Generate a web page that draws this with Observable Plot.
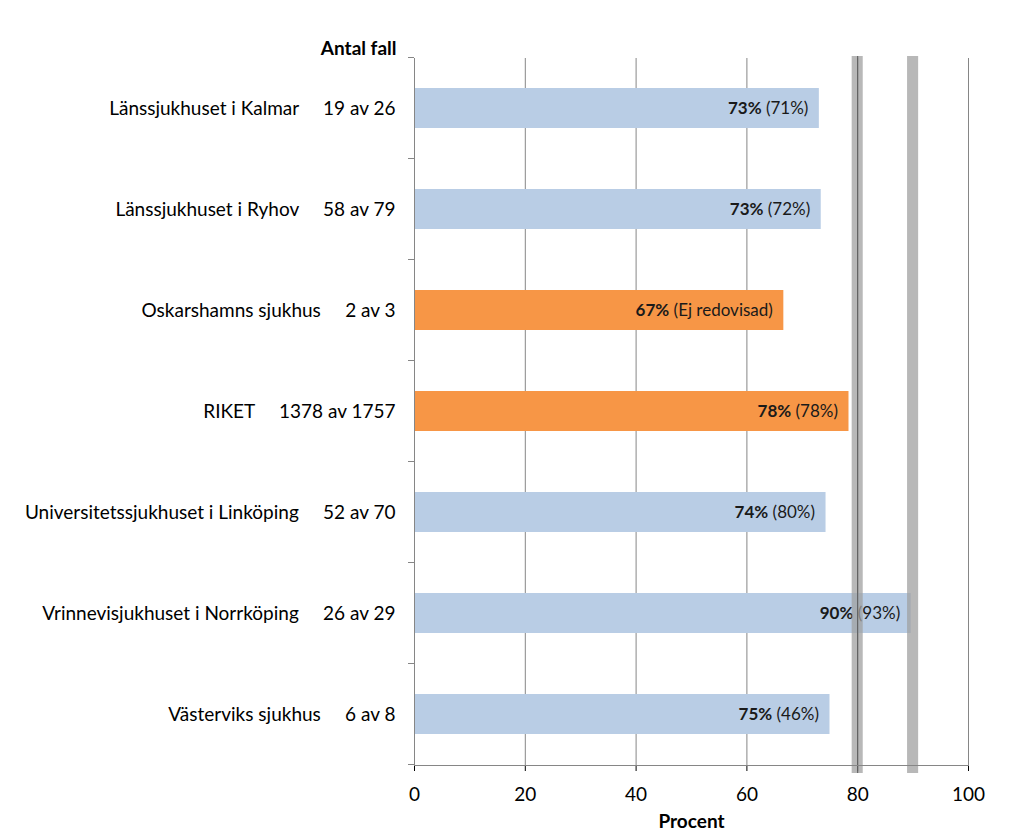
<!DOCTYPE html>
<html><head><meta charset="utf-8">
<script src="https://cdn.jsdelivr.net/npm/d3@7"></script>
<script src="https://cdn.jsdelivr.net/npm/@observablehq/plot@0.6"></script>
<style>body{margin:0;background:#fff;}</style>
</head><body><div id="chart"></div>
<script>
const hospitals = ["Länssjukhuset i Kalmar","Länssjukhuset i Ryhov","Oskarshamns sjukhus","RIKET","Universitetssjukhuset i Linköping","Vrinnevisjukhuset i Norrköping","Västerviks sjukhus"];
const cases = [19,58,2,1378,52,26,6];
const totals = [26,79,3,1757,70,29,8];
const previous = ["(71%)","(72%)","(Ej redovisad)","(78%)","(80%)","(93%)","(46%)"];
const highlighted = [false,false,true,true,false,false,false];
const xTicks = [0,20,40,60,80,100];
const targetLow = [79,89];
const targetHigh = [81,91];
const targetLine = [80];

const rows = hospitals.map((h,i)=>({
  label: h + "\u00a0\u00a0\u00a0\u00a0\u00a0" + cases[i] + " av " + totals[i],
  pct: cases[i]/totals[i]*100,
  prev: previous[i],
  hi: highlighted[i]
}));
const bands = targetLow.map((l,i)=>({x1:l, x2:targetHigh[i]}));

const chart = Plot.plot({
  width:1024, height:837,
  marginLeft:414, marginRight:56, marginTop:58, marginBottom:72,
  style:{fontFamily:"Lato, 'Open Sans', sans-serif", fontSize:"19px", color:"#000", background:"#fff"},
  x:{domain:[0,100], ticks:5, tickSize:6, tickPadding:16, label:null},
  y:{domain: rows.map(d=>d.label), paddingInner:0.6, paddingOuter:0.3, tickSize:0, tickPadding:19, label:null},
  marks:[
    Plot.ruleX(xTicks, {stroke:"#868686", strokeOpacity:1}),
    Plot.barX(rows, {x:"pct", y:"label", fill: d=>d.hi ? "#f79646" : "#b9cde5"}),
    Plot.text(rows, {x:"pct", y:"label", text: d=>Math.round(d.pct)+"% "+d.prev, textAnchor:"end", dx:-11, fontSize:17, fill:"#1a1a1a"}),
    Plot.rect(bands, {x1:"x1", x2:"x2", fill:"#a0a0a0", fillOpacity:0.75, insetTop:-2, insetBottom:-8}),
    Plot.ruleX(targetLine, {stroke:"#555", insetTop:-2, insetBottom:-8}),
    Plot.ruleX([0], {stroke:"#868686"}),
    Plot.frame({anchor:"bottom", stroke:"#868686"}),
    Plot.text(["Antal fall"], {frameAnchor:"top-left", dx:-18, dy:-17, textAnchor:"end", fontWeight:"bold", fontSize:19}),
    Plot.text(["Procent"], {frameAnchor:"bottom", dy:62, fontWeight:"bold", fontSize:19})
  ]
});

const svg = d3.select(chart);
svg.selectAll("text").each(function(){
  const t = this.textContent;
  const m = t.match(/^(\d+%) (\(.*\))$/);
  if (m) {
    this.textContent = "";
    d3.select(this).append("tspan").attr("font-weight","bold").text(m[1]);
    d3.select(this).append("tspan").text(" " + m[2]);
  }
});
const ys = chart.scale("y");
const xs = chart.scale("x");
const gap = (ys.step - ys.bandwidth)/2;
const x0 = xs.apply(0);
const bounds = rows.map(d=>ys.apply(d.label) - gap);
bounds.push(ys.apply(rows[rows.length-1].label) + ys.bandwidth + gap);
const g = svg.append("g").attr("stroke","#868686");
bounds.forEach(b=>{
  g.append("line").attr("x1", x0-6).attr("x2", x0).attr("y1", b).attr("y2", b);
});
document.getElementById("chart").appendChild(chart);
</script>
</body></html>
